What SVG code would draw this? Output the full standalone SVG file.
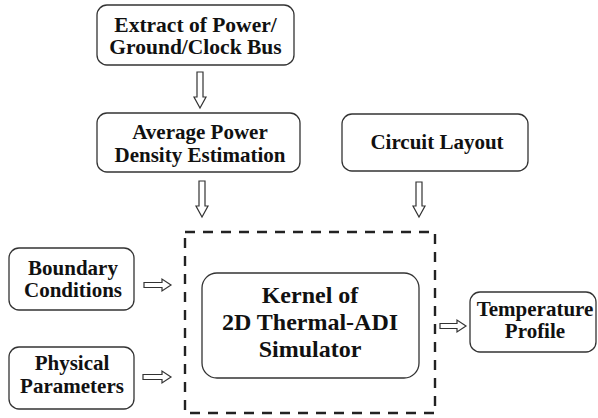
<svg xmlns="http://www.w3.org/2000/svg" width="598" height="418" viewBox="0 0 598 418">
<style>
.box{fill:#fff;stroke:#333;stroke-width:1.3}
.t{font-weight:bold;fill:#111;text-anchor:middle}
.s{font-size:21px}
.k{font-size:24px}
.arr{fill:#fff;stroke:#333;stroke-width:1.2}
.dash{fill:none;stroke:#222;stroke-width:2.4;stroke-dasharray:10 8}
</style>
<rect width="598" height="418" fill="#fff"/>
<g font-family="Liberation Serif, Times New Roman, DejaVu Serif, serif">
<g id="extract">
<rect class="box" x="97" y="5" width="197" height="60" rx="10"/>
<text class="t" font-size="21.5" x="195.5" y="32">Extract of Power/</text>
<text class="t" font-size="21.5" x="195.5" y="54">Ground/Clock Bus</text>
</g>
<g id="avgpower">
<rect class="box" x="97" y="113" width="203" height="59" rx="10"/>
<text class="t s" x="200" y="139">Average Power</text>
<text class="t s" x="200" y="162">Density Estimation</text>
</g>
<g id="circuit">
<rect class="box" x="342" y="114" width="186" height="57" rx="10"/>
<text class="t s" x="437" y="149">Circuit Layout</text>
</g>
<g id="boundary">
<rect class="box" x="9" y="248" width="125" height="62" rx="10"/>
<text class="t s" x="73" y="275">Boundary</text>
<text class="t s" x="73" y="297">Conditions</text>
</g>
<g id="physical">
<rect class="box" x="9" y="347" width="125" height="62" rx="10"/>
<text class="t s" x="72" y="370">Physical</text>
<text class="t s" x="72" y="393">Parameters</text>
</g>
<g id="simulator">
<rect class="dash" x="185" y="232" width="250" height="181"/>
<rect class="box" x="202" y="273" width="217" height="105" rx="15"/>
<text class="t k" x="310" y="303">Kernel of</text>
<text class="t k" x="310" y="330">2D Thermal-ADI</text>
<text class="t k" x="310" y="357">Simulator</text>
</g>
<g id="temperature">
<rect class="box" x="470" y="292" width="126" height="60" rx="10"/>
<text class="t s" x="535" y="316">Temperature</text>
<text class="t s" x="535" y="338">Profile</text>
</g>
</g>
<g id="connectors">
<path class="arr" d="M197,72 H203 V97 H206 L200,108 L194,97 H197 Z"/>
<path class="arr" d="M199,181 H205 V206 H208 L202,217 L196,206 H199 Z"/>
<path class="arr" d="M416,182 H422 V206 H425 L419,217 L413,206 H416 Z"/>
<path class="arr" d="M144,282.5 V287.5 H162 V291 L171,285 L162,279 V282.5 Z"/>
<path class="arr" d="M143,374.5 V379.5 H162 V383 L171,377 L162,371 V374.5 Z"/>
<path class="arr" d="M440,323.5 V328.5 H457 V332 L466,326 L457,320 V323.5 Z"/>
</g>
</svg>
